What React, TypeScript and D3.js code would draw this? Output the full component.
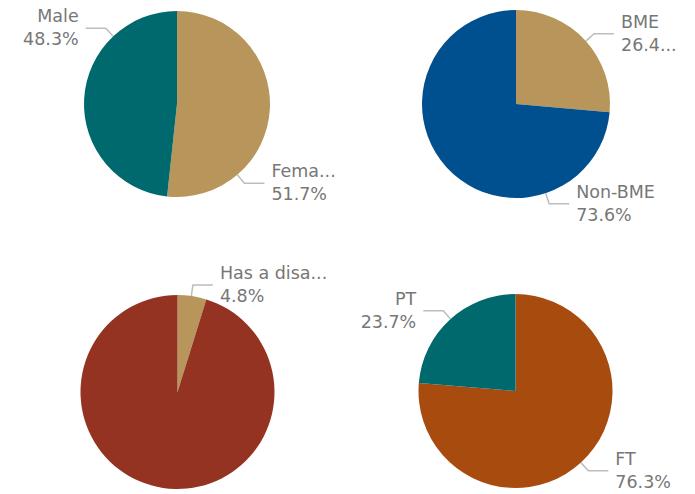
import React, { useRef, useEffect } from 'react';
import * as d3 from 'd3';

// slice values, in percent, clockwise from 12 o'clock
const genderNames = ['Female', 'Male'];
const genderValues = [51.7, 48.3];
const ethnicityNames = ['BME', 'Non-BME'];
const ethnicityValues = [26.4, 73.6];
const disabilityNames = ['Has a disability', 'No disability'];
const disabilityValues = [4.8, 95.2];
const contractNames = ['FT', 'PT'];
const contractValues = [76.3, 23.7];

const TAN = '#b8955a';
const TEAL = '#00696e';
const BLUE = '#00508f';
const RUST = '#953322';
const ORANGE = '#a84b0f';

// layout: center, radius, leader angle (deg, null = no label), truncation (chars)
const pies = [
  { names: genderNames, values: genderValues, colors: [TAN, TEAL], cx: 177, cy: 104, r: 93,
    angles: [139.6, 316.7], clipName: [4, null], clipPct: [null, null] },
  { names: ethnicityNames, values: ethnicityValues, colors: [TAN, BLUE], cx: 516, cy: 104, r: 94,
    angles: [48, 161.6], clipName: [null, null], clipPct: [4, null] },
  { names: disabilityNames, values: disabilityValues, colors: [TAN, RUST], cx: 177.5, cy: 392, r: 97,
    angles: [8.2, null], clipName: [10, null], clipPct: [null, null] },
  { names: contractNames, values: contractValues, colors: [ORANGE, TEAL], cx: 515.5, cy: 391, r: 97,
    angles: [137.6, 318], clipName: [null, null], clipPct: [null, null] },
];

const clip = (s, n) => (n != null && s.length > n ? s.slice(0, n) + '...' : s);

export default function App() {
  const ref = useRef(null);

  useEffect(() => {
    const svg = d3.select(ref.current);
    svg.selectAll('*').remove();

    const pie = d3.pie().sort(null).value((d) => d);

    pies.forEach((p) => {
      const g = svg.append('g').attr('transform', `translate(${p.cx},${p.cy})`);
      const arc = d3.arc().innerRadius(0).outerRadius(p.r);

      g.selectAll('path')
        .data(pie(p.values))
        .enter()
        .append('path')
        .attr('d', arc)
        .attr('fill', (d, i) => p.colors[i]);

      p.angles.forEach((deg, i) => {
        if (deg == null) return;
        const a = (deg * Math.PI) / 180;
        const right = deg < 180;
        const sx = Math.sin(a) * p.r;
        const sy = -Math.cos(a) * p.r;
        const ex = Math.sin(a) * (p.r + 11);
        const ey = -Math.cos(a) * (p.r + 11);
        const hx = ex + (right ? 20 : -20);

        g.append('polyline')
          .attr('points', `${sx},${sy} ${ex},${ey} ${hx},${ey}`)
          .attr('fill', 'none')
          .attr('stroke', '#bdbdbd')
          .attr('stroke-width', 1.5);

        const tx = hx + (right ? 7 : -7);
        const pct = d3.format('.1f')(p.values[i]) + '%';
        const t = g.append('text')
          .attr('x', tx)
          .attr('text-anchor', right ? 'start' : 'end')
          .attr('fill', '#777')
          .style('font-family', '"DejaVu Sans", sans-serif')
          .style('font-size', '17.5px');
        t.append('tspan').attr('x', tx).attr('y', ey - 6).text(clip(p.names[i], p.clipName[i]));
        t.append('tspan').attr('x', tx).attr('y', ey + 17).text(clip(pct, p.clipPct[i]));
      });
    });
  }, []);

  return (
    <svg
      ref={ref}
      width={695}
      height={494}
      style={{ position: 'absolute', left: 0, top: 0, background: '#fff' }}
    />
  );
}
